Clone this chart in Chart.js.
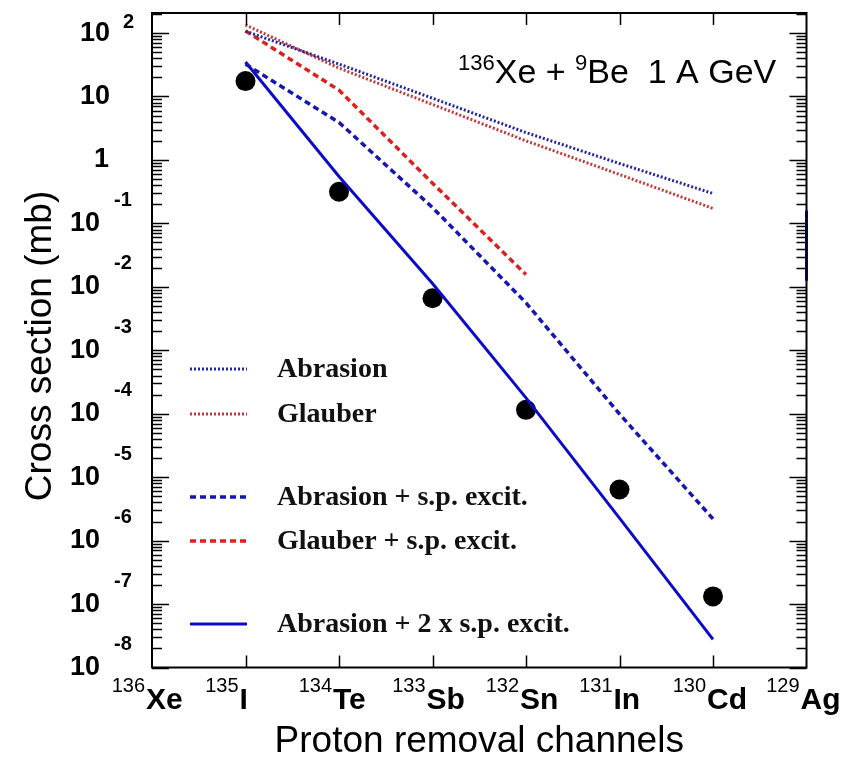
<!DOCTYPE html>
<html>
<head>
<meta charset="utf-8">
<script src="https://cdn.jsdelivr.net/npm/chart.js@4.4.1/dist/chart.umd.min.js"></script>
<style>
  html, body { margin: 0; padding: 0; background: #ffffff; }
  #wrap { width: 846px; height: 766px; position: relative; }
  canvas { display: block; }
</style>
</head>
<body>
<div id="wrap"><canvas id="chart" width="846" height="766"></canvas></div>
<script>
// Fragment labels along the x axis (mass number as a superscript, then the element)
const massNumbers = ['136', '135', '134', '133', '132', '131', '130', '129'];
const elementSymbols = ['Xe', 'I', 'Te', 'Sb', 'Sn', 'In', 'Cd', 'Ag'];

// Channel positions: 135I ... 130Cd
const channels = [1, 2, 3, 4, 5, 6];

// Cross sections in mb
const measured       = [17.5, 0.315, 0.0066, 1.15e-4, 6.4e-6, 1.32e-7];
const abrasion       = [107, 32.4, 9.4, 2.7, 0.88, 0.296];
const glauber        = [134, 28, 7.5, 2.0, 0.59, 0.172];
const abrasionSp     = [32.4, 3.9, 0.178, 0.0056, 9.9e-5, 2.2e-6];
const glauberSp      = [108, 12.6, 0.43, 0.0156];
const abrasion2Sp    = [35, 0.55, 0.0113, 1.78e-4, 2.26e-6, 2.77e-8];
const edgeTrace      = [0.16, 0.0125];

// Decades labelled on the y axis
const yDecades = [2, 1, 0, -1, -2, -3, -4, -5, -6, -7, -8];

const BLUE_SOLID = '#0c0cc8';
const BLUE_DASH  = '#1616b0';
const BLUE_DOT   = '#26269c';
const RED_DASH   = '#dc2020';
const RED_DOT    = '#c23838';

function pts(xs, ys) { return ys.map((v, i) => ({ x: xs[i], y: v })); }

const lineBase = { showLine: true, pointRadius: 0, pointHoverRadius: 0, fill: false, tension: 0, order: 1 };

const datasets = [
  Object.assign({}, lineBase, { label: 'Abrasion', data: pts(channels, abrasion),
    borderColor: BLUE_DOT, borderWidth: 3, borderDash: [2, 2] }),
  Object.assign({}, lineBase, { label: 'Glauber', data: pts(channels, glauber),
    borderColor: RED_DOT, borderWidth: 3, borderDash: [2, 2] }),
  Object.assign({}, lineBase, { label: 'Abrasion + s.p. excit.', data: pts(channels, abrasionSp),
    borderColor: BLUE_DASH, borderWidth: 3.5, borderDash: [6, 4] }),
  Object.assign({}, lineBase, { label: 'Glauber + s.p. excit.', data: pts(channels, glauberSp),
    borderColor: RED_DASH, borderWidth: 3.5, borderDash: [6, 4] }),
  Object.assign({}, lineBase, { label: 'Abrasion + 2 x s.p. excit.', data: pts(channels, abrasion2Sp),
    borderColor: BLUE_SOLID, borderWidth: 3 }),
  Object.assign({}, lineBase, { label: '', data: [{ x: 7, y: edgeTrace[0] }, { x: 7, y: edgeTrace[1] }],
    borderColor: BLUE_SOLID, borderWidth: 3, clip: false }),
  { label: 'Data', data: pts(channels, measured), showLine: false, pointRadius: 10,
    pointBackgroundColor: '#000000', pointBorderColor: '#000000', pointBorderWidth: 0, order: 5 }
];

// Rows of the in-plot key (dataset index, vertical position)
const keyRows = [[0, 369], [1, 414], [2, 497], [3, 541], [4, 624]];

const framePlugin = {
  id: 'frame',
  afterDraw(chart) {
    const ctx = chart.ctx;
    const a = chart.chartArea;
    const xs = chart.scales.x, ys = chart.scales.y;
    ctx.save();

    // axis frame
    ctx.strokeStyle = '#000';
    ctx.lineWidth = 2;
    ctx.strokeRect(a.left, a.top, a.right - a.left, a.bottom - a.top);

    // y ticks, inward on both sides
    ctx.lineWidth = 1.5;
    const yMax = ys.max;
    for (let e = -8; e <= 2; e++) {
      for (let m = 1; m <= 9; m++) {
        const v = m * Math.pow(10, e);
        if (v < ys.min || v > yMax) continue;
        const py = Math.round(ys.getPixelForValue(v)) + 0.5;
        const len = m === 1 ? 17 : 10;
        ctx.beginPath();
        ctx.moveTo(a.left, py); ctx.lineTo(a.left + len, py);
        ctx.moveTo(a.right, py); ctx.lineTo(a.right - len, py);
        ctx.stroke();
      }
    }
    // x ticks, inward top and bottom
    for (let i = 1; i < massNumbers.length - 1; i++) {
      const px = Math.round(xs.getPixelForValue(i)) + 0.5;
      ctx.beginPath();
      ctx.moveTo(px, a.top); ctx.lineTo(px, a.top + 12);
      ctx.moveTo(px, a.bottom); ctx.lineTo(px, a.bottom - 12);
      ctx.stroke();
    }

    // y tick labels: 10 with exponent
    ctx.fillStyle = '#000';
    ctx.textBaseline = 'middle';
    yDecades.forEach(e => {
      const py = ys.getPixelForValue(Math.pow(10, e));
      ctx.font = 'bold 27px "Liberation Sans", Arial, sans-serif';
      ctx.textAlign = 'right';
      if (e === 0) {
        ctx.fillText('1', 109, py);
      } else if (e === 1) {
        ctx.fillText('10', 110, py);
      } else if (e > 1) {
        ctx.fillText('10', 110, py);
        ctx.font = 'bold 20px "Liberation Sans", Arial, sans-serif';
        ctx.textAlign = 'left';
        ctx.fillText(String(e), 123, py - 11);
      } else {
        ctx.fillText('10', 100, py);
        ctx.font = 'bold 20px "Liberation Sans", Arial, sans-serif';
        ctx.textAlign = 'left';
        ctx.fillText(String(e), 114, py - 23);
      }
    });

    // x tick labels: superscript mass number + element
    ctx.textBaseline = 'alphabetic';
    for (let i = 0; i < massNumbers.length; i++) {
      const px = xs.getPixelForValue(i);
      const sx = px - 6;
      ctx.font = 'bold 30px "Liberation Sans", Arial, sans-serif';
      ctx.textAlign = 'left';
      ctx.fillText(elementSymbols[i], sx, 709);
      ctx.font = '20px "Liberation Sans", Arial, sans-serif';
      ctx.textAlign = 'right';
      ctx.fillText(massNumbers[i], sx - 1, 692);
    }

    // axis titles
    ctx.font = '37px "Liberation Sans", Arial, sans-serif';
    ctx.textAlign = 'center';
    ctx.textBaseline = 'middle';
    ctx.fillText('Proton removal channels', (a.left + a.right) / 2, 742);
    ctx.save();
    ctx.translate(41, 346);
    ctx.rotate(-Math.PI / 2);
    ctx.fillText('Cross section (mb)', 0, 0);
    ctx.restore();

    // reaction annotation
    ctx.textAlign = 'left';
    ctx.textBaseline = 'alphabetic';
    let tx = 458;
    const base = 83;
    const parts = [
      ['136', 22, -13], ['Xe + ', 34, 0], ['9', 22, -13], ['Be  1 A GeV', 34, 0]
    ];
    parts.forEach(([t, size, dy]) => {
      ctx.font = size + 'px "Liberation Sans", Arial, sans-serif';
      ctx.fillText(t, tx, base + dy);
      tx += ctx.measureText(t).width;
    });

    // key
    ctx.textBaseline = 'middle';
    ctx.font = 'bold 28px "Liberation Serif", "Times New Roman", serif';
    keyRows.forEach(([di, ry]) => {
      const ds = chart.data.datasets[di];
      ctx.strokeStyle = ds.borderColor;
      ctx.lineWidth = ds.borderWidth;
      ctx.setLineDash(ds.borderDash || []);
      ctx.beginPath();
      ctx.moveTo(190, ry); ctx.lineTo(247, ry);
      ctx.stroke();
      ctx.setLineDash([]);
      ctx.fillStyle = '#111';
      ctx.fillText(ds.label, 277, ry + 1);
    });

    ctx.restore();
  }
};

new Chart(document.getElementById('chart'), {
  type: 'scatter',
  data: { datasets },
  options: {
    responsive: false,
    animation: false,
    devicePixelRatio: 1,
    layout: { padding: { left: 152, right: 39.5, top: 13, bottom: 98.5 } },
    scales: {
      x: { type: 'linear', min: 0, max: 7, display: false },
      y: { type: 'logarithmic', min: 1e-8, max: Math.pow(10, 2.316), display: false }
    },
    plugins: { legend: { display: false }, tooltip: { enabled: false } }
  },
  plugins: [framePlugin]
});
</script>
</body>
</html>
